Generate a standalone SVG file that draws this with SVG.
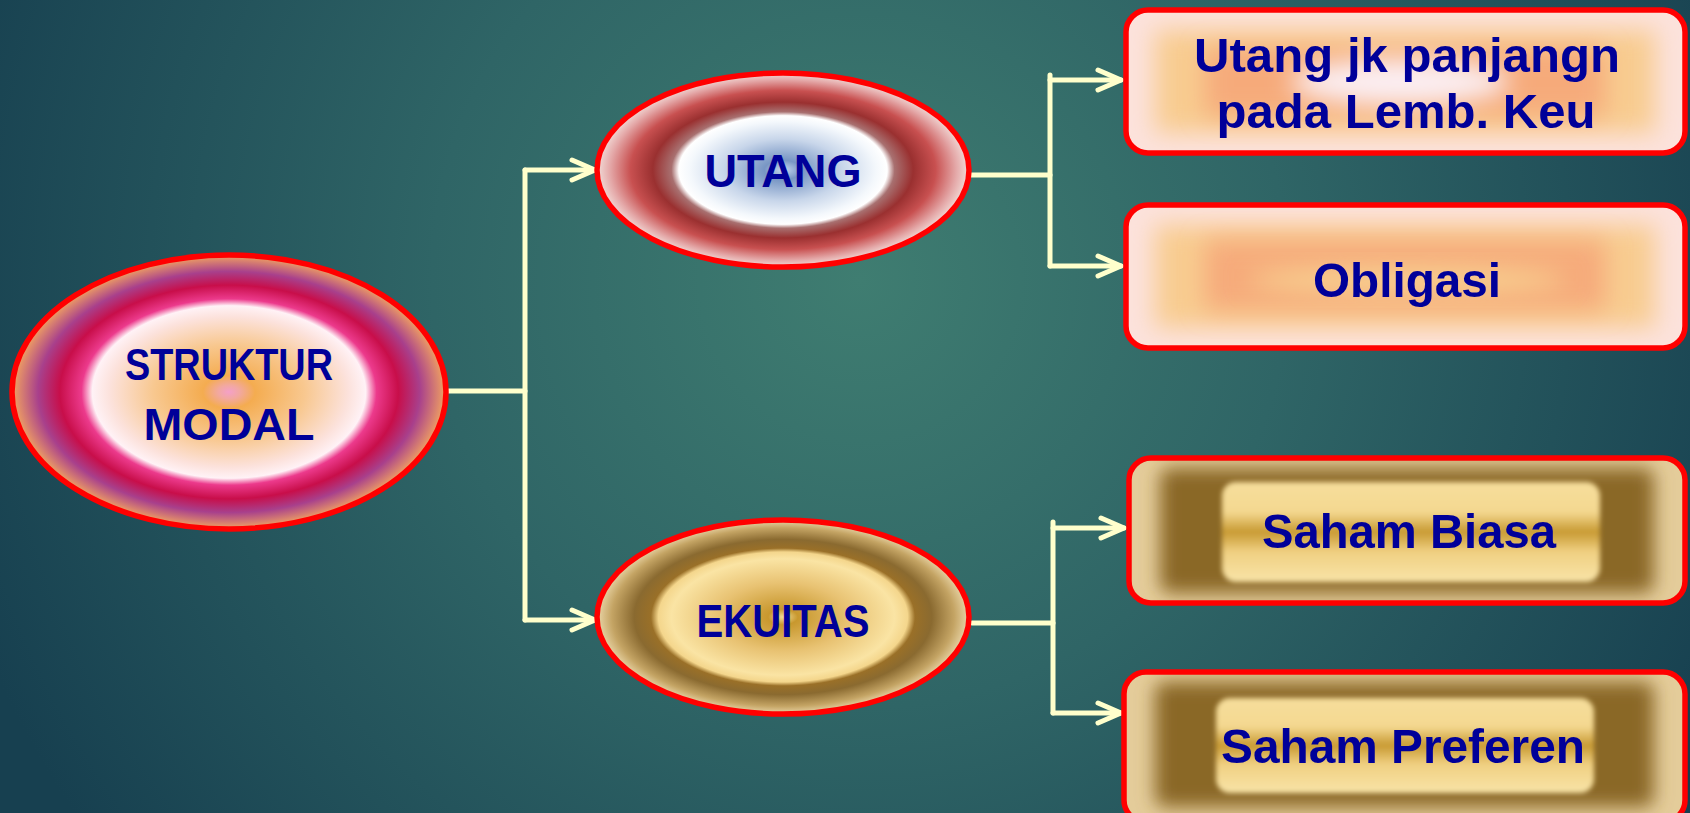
<svg xmlns="http://www.w3.org/2000/svg" width="1690" height="813" viewBox="0 0 1690 813">
<defs>
<radialGradient id="bg" gradientUnits="userSpaceOnUse" cx="860" cy="280" r="950">
<stop offset="0" stop-color="#3F7D71"/>
<stop offset="0.45" stop-color="#2F6566"/>
<stop offset="1" stop-color="#174050"/>
</radialGradient>
<radialGradient id="gStruk" cx="0.5" cy="0.5" r="0.5">
<stop offset="0" stop-color="#F4A0C8"/>
<stop offset="0.05" stop-color="#F2A8A0"/>
<stop offset="0.12" stop-color="#F4AC50"/>
<stop offset="0.35" stop-color="#F8C890"/>
<stop offset="0.55" stop-color="#FCE2DC"/>
<stop offset="0.63" stop-color="#FFF2F6"/>
<stop offset="0.68" stop-color="#EC3A8C"/>
<stop offset="0.78" stop-color="#C80E4A"/>
<stop offset="0.88" stop-color="#A8408C"/>
<stop offset="1" stop-color="#F2A460"/>
</radialGradient>
<radialGradient id="gUtang" cx="0.5" cy="0.5" r="0.5">
<stop offset="0" stop-color="#C8D8F0"/>
<stop offset="0.1" stop-color="#7896C4"/>
<stop offset="0.32" stop-color="#C8D6EA"/>
<stop offset="0.5" stop-color="#F4F8FC"/>
<stop offset="0.56" stop-color="#FFFFFF"/>
<stop offset="0.6" stop-color="#A87070"/>
<stop offset="0.7" stop-color="#9A3030"/>
<stop offset="0.82" stop-color="#C85050"/>
<stop offset="0.93" stop-color="#E4A8A8"/>
<stop offset="1" stop-color="#F2DCD8"/>
</radialGradient>
<radialGradient id="gEkuitas" cx="0.5" cy="0.5" r="0.5">
<stop offset="0" stop-color="#F2DC98"/>
<stop offset="0.08" stop-color="#C8982E"/>
<stop offset="0.35" stop-color="#E8C272"/>
<stop offset="0.6" stop-color="#FAE4A4"/>
<stop offset="0.67" stop-color="#F4D68C"/>
<stop offset="0.71" stop-color="#9A7028"/>
<stop offset="0.8" stop-color="#8A6A30"/>
<stop offset="0.92" stop-color="#C4A464"/>
<stop offset="1" stop-color="#EAD6A8"/>
</radialGradient>
<linearGradient id="gGoldIn" x1="0" y1="0" x2="0" y2="1">
<stop offset="0" stop-color="#F6DE9C"/>
<stop offset="0.3" stop-color="#F4D890"/>
<stop offset="0.5" stop-color="#C89A32"/>
<stop offset="0.7" stop-color="#F0D082"/>
<stop offset="1" stop-color="#F8E4A8"/>
</linearGradient>
<filter id="b12" x="-30%" y="-50%" width="160%" height="200%"><feGaussianBlur stdDeviation="12"/></filter>
<filter id="b8" x="-30%" y="-50%" width="160%" height="200%"><feGaussianBlur stdDeviation="9"/></filter>
<filter id="b3" x="-10%" y="-20%" width="120%" height="140%"><feGaussianBlur stdDeviation="2.5"/></filter>
<clipPath id="c1"><rect x="1126" y="10" width="559" height="143" rx="22"/></clipPath>
<clipPath id="c2"><rect x="1126" y="205" width="559" height="143" rx="22"/></clipPath>
<clipPath id="c3"><rect x="1129" y="458" width="556" height="145" rx="22"/></clipPath>
<clipPath id="c4"><rect x="1124" y="672" width="561" height="150" rx="22"/></clipPath>
<marker id="arr" markerUnits="userSpaceOnUse" viewBox="-30 -15 36 30" refX="0" refY="0" markerWidth="36" markerHeight="30" orient="auto">
<path d="M-23,-10 L0,0 L-23,10" fill="none" stroke="#FFFFCC" stroke-width="5" stroke-linecap="round" stroke-linejoin="round"/>
</marker>
</defs>
<style>
.lbl{font-family:"Liberation Sans",Arial,sans-serif;font-weight:bold;fill:#000099;text-anchor:middle;}
.edge{fill:none;stroke:#FFFFCC;stroke-width:5;stroke-linecap:round;stroke-linejoin:round;}
.red{fill:none;stroke:#FF0000;stroke-width:5.5;}
</style>
<rect x="0" y="0" width="1690" height="813" fill="url(#bg)"/>

<g id="connectors">
<path class="edge" d="M446,391 H525"/>
<path class="edge" d="M525,170 V620"/>
<path class="edge" d="M525,170 H595" marker-end="url(#arr)"/>
<path class="edge" d="M525,620 H595" marker-end="url(#arr)"/>
<path class="edge" d="M968,175 H1050"/>
<path class="edge" d="M1050,75 V266"/>
<path class="edge" d="M1050,80 H1121" marker-end="url(#arr)"/>
<path class="edge" d="M1050,266 H1121" marker-end="url(#arr)"/>
<path class="edge" d="M972,623 H1053"/>
<path class="edge" d="M1053,522 V713"/>
<path class="edge" d="M1053,528 H1124" marker-end="url(#arr)"/>
<path class="edge" d="M1053,713 H1121" marker-end="url(#arr)"/>
</g>

<g id="node-struktur-modal">
<ellipse cx="229" cy="392" rx="217" ry="137" fill="url(#gStruk)"/>
<ellipse class="red" cx="229" cy="392" rx="217" ry="137"/>
<text class="lbl" x="229" y="380" font-size="45" textLength="208" lengthAdjust="spacingAndGlyphs">STRUKTUR</text>
<text class="lbl" x="229" y="440" font-size="45" textLength="171" lengthAdjust="spacingAndGlyphs">MODAL</text>
</g>

<g id="node-utang">
<ellipse cx="783" cy="170" rx="186" ry="97" fill="url(#gUtang)"/>
<ellipse class="red" cx="783" cy="170" rx="186" ry="97"/>
<text class="lbl" x="783" y="187" font-size="47" textLength="157" lengthAdjust="spacingAndGlyphs">UTANG</text>
</g>

<g id="node-ekuitas">
<ellipse cx="783" cy="617" rx="186" ry="97" fill="url(#gEkuitas)"/>
<ellipse class="red" cx="783" cy="617" rx="186" ry="97"/>
<text class="lbl" x="783" y="637" font-size="47" textLength="173" lengthAdjust="spacingAndGlyphs">EKUITAS</text>
</g>

<g id="node-utang-jk-panjang">
<rect x="1126" y="10" width="559" height="143" rx="22" fill="#FCE2DC"/>
<g clip-path="url(#c1)">
<rect x="1155" y="30" width="500" height="103" fill="#F8CC90" filter="url(#b12)"/>
<rect x="1205" y="48" width="400" height="68" fill="#F6AA7A" filter="url(#b12)"/>
<ellipse cx="1400" cy="82" rx="110" ry="24" fill="#FBEEF2" filter="url(#b12)"/>
</g>
<rect class="red" x="1126" y="10" width="559" height="143" rx="22"/>
<text class="lbl" x="1407" y="72" font-size="49" textLength="426" lengthAdjust="spacingAndGlyphs">Utang jk panjangn</text>
<text class="lbl" x="1406" y="128" font-size="49" textLength="379" lengthAdjust="spacingAndGlyphs">pada Lemb. Keu</text>
</g>

<g id="node-obligasi">
<rect x="1126" y="205" width="559" height="143" rx="22" fill="#FCE2DC"/>
<g clip-path="url(#c2)">
<rect x="1155" y="225" width="500" height="103" fill="#F8CC90" filter="url(#b12)"/>
<rect x="1205" y="240" width="400" height="70" fill="#F6AA7A" filter="url(#b12)"/>
<ellipse cx="1407" cy="280" rx="160" ry="14" fill="#F8D090" filter="url(#b12)"/>
</g>
<rect class="red" x="1126" y="205" width="559" height="143" rx="22"/>
<text class="lbl" x="1407" y="297" font-size="49" textLength="188" lengthAdjust="spacingAndGlyphs">Obligasi</text>
</g>

<g id="node-saham-biasa">
<rect x="1129" y="458" width="556" height="145" rx="22" fill="#E4CC9A"/>
<g clip-path="url(#c3)">
<rect x="1160" y="468" width="494" height="125" rx="10" fill="#8A6828" filter="url(#b8)"/>
<rect x="1222" y="482" width="378" height="100" rx="14" fill="url(#gGoldIn)" filter="url(#b3)"/>
</g>
<rect class="red" x="1129" y="458" width="556" height="145" rx="22"/>
<text class="lbl" x="1409" y="548" font-size="49" textLength="294" lengthAdjust="spacingAndGlyphs">Saham Biasa</text>
</g>

<g id="node-saham-preferen">
<rect x="1124" y="672" width="561" height="150" rx="22" fill="#E4CC9A"/>
<g clip-path="url(#c4)">
<rect x="1155" y="682" width="499" height="125" rx="10" fill="#8A6828" filter="url(#b8)"/>
<rect x="1216" y="698" width="378" height="95" rx="14" fill="url(#gGoldIn)" filter="url(#b3)"/>
</g>
<rect class="red" x="1124" y="672" width="561" height="150" rx="22"/>
<text class="lbl" x="1403" y="763" font-size="49" textLength="364" lengthAdjust="spacingAndGlyphs">Saham Preferen</text>
</g>
</svg>
